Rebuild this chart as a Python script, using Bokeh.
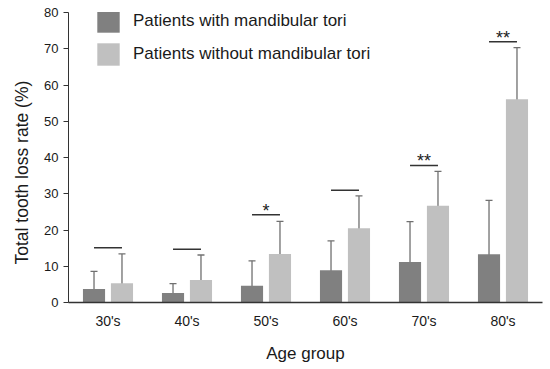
from bokeh.plotting import figure
from bokeh.models import (ColumnDataSource, FactorRange, Whisker, TeeHead, Legend,
                          LegendItem, Range1d, FixedTicker, Title)
from bokeh.transform import dodge
from bokeh.core.properties import value
from bokeh.embed import file_html
from bokeh.resources import INLINE

groups = ["30's", "40's", "50's", "60's", "70's", "80's"]
with_tori = [3.7, 2.6, 4.6, 8.9, 11.2, 13.3]
with_tori_upper = [8.6, 5.2, 11.5, 17.0, 22.3, 28.2]
with_tori_lower = [0.0, 0.0, 0.0, 0.7, 0.0, 0.0]
without_tori = [5.3, 6.2, 13.4, 20.5, 26.7, 56.1]
without_tori_upper = [13.4, 13.1, 22.4, 29.4, 36.2, 70.3]
without_tori_lower = [0.0, 0.0, 4.0, 11.4, 17.2, 41.7]
sig_y = [15.1, 14.7, 24.2, 31.0, 37.8, 71.9]
sig_text = ["", "", "*", "", "**", "**"]
y_ticks = [0, 10, 20, 30, 40, 50, 60, 70, 80]

FONT = "Liberation Sans"
DARK = "#808080"
LIGHT = "#c0c0c0"
TXT = "#1a1a1a"

src = ColumnDataSource(dict(
    g=groups, a=with_tori, au=with_tori_upper, al=with_tori_lower,
    b=without_tori, bu=without_tori_upper, bl=without_tori_lower,
    sy=sig_y, st=sig_text,
))

p = figure(width=550, height=369, x_range=FactorRange(*groups),
           y_range=Range1d(0, 80), output_backend="svg", toolbar_location=None,
           min_border_left=68, min_border_right=8, min_border_top=12,
           min_border_bottom=67)
p.outline_line_color = None
p.xgrid.grid_line_color = None
p.ygrid.grid_line_color = None
p.x_range.range_padding = 0

off = 0.177
bw = 0.28
r1 = p.vbar(x=dodge("g", -off, range=p.x_range), top="a", width=bw, source=src,
            fill_color=DARK, line_color=None)
r2 = p.vbar(x=dodge("g", off, range=p.x_range), top="b", width=bw, source=src,
            fill_color=LIGHT, line_color=None)

EC = "#707070"
for xo, up, lo in [(-off, "au", "al"), (off, "bu", "bl")]:
    w = Whisker(base=dodge("g", xo, range=p.x_range), upper=up, lower=lo, source=src,
                dimension="height", line_color=EC, line_width=1.3,
                upper_head=TeeHead(size=7, line_color=EC, line_width=1.3),
                lower_head=TeeHead(size=7, line_color=EC, line_width=1.3))
    p.add_layout(w)

p.segment(x0=dodge("g", -off, range=p.x_range), x1=dodge("g", off, range=p.x_range),
          y0="sy", y1="sy", source=src, line_color="#333333", line_width=1.5)
p.text(x="g", y="sy", text="st", source=src, text_align="center",
       text_baseline="middle", text_font=value(FONT), text_font_size="18px",
       text_color="#222222", y_offset=-4)

# axes
p.yaxis.ticker = FixedTicker(ticks=y_ticks)
p.yaxis.minor_tick_line_color = None
p.yaxis.major_tick_out = 5
p.yaxis.major_tick_in = 0
p.yaxis.major_label_standoff = 5
p.yaxis.axis_line_color = "#333333"
p.yaxis.major_tick_line_color = "#333333"
p.xaxis.axis_label = "Age group"
p.xaxis.major_tick_line_color = None
p.xaxis.axis_line_color = "#333333"
p.xaxis.axis_line_width = 1.5
p.xaxis.major_label_standoff = 4
p.xaxis.axis_label_standoff = 12
for ax in (p.xaxis, p.yaxis):
    ax.major_label_text_font = FONT
    ax.axis_label_text_font = FONT
    ax.axis_label_text_font_style = "normal"
    ax.axis_label_text_font_size = "17px"
    ax.major_label_text_color = TXT
    ax.axis_label_text_color = TXT
p.yaxis.major_label_text_font_size = "13px"
p.xaxis.major_label_text_font_size = "14px"

ytitle = Title(text="Total tooth loss rate (%)", align="left", offset=38,
               standoff=19, text_font=FONT, text_font_size="17.5px",
               text_font_style="normal", text_color=TXT)
p.add_layout(ytitle, "left")

legend = Legend(items=[LegendItem(label="Patients with mandibular tori", renderers=[r1]),
                       LegendItem(label="Patients without mandibular tori", renderers=[r2])],
                location=(26, 234), glyph_width=28, glyph_height=28, label_standoff=11,
                spacing=5, padding=0, margin=0, border_line_color=None,
                background_fill_alpha=0, label_text_font=FONT,
                label_text_font_size="17px", label_text_color=TXT,
                label_height=28)
p.add_layout(legend)

open("out.html", "w").write(file_html(p, INLINE))
